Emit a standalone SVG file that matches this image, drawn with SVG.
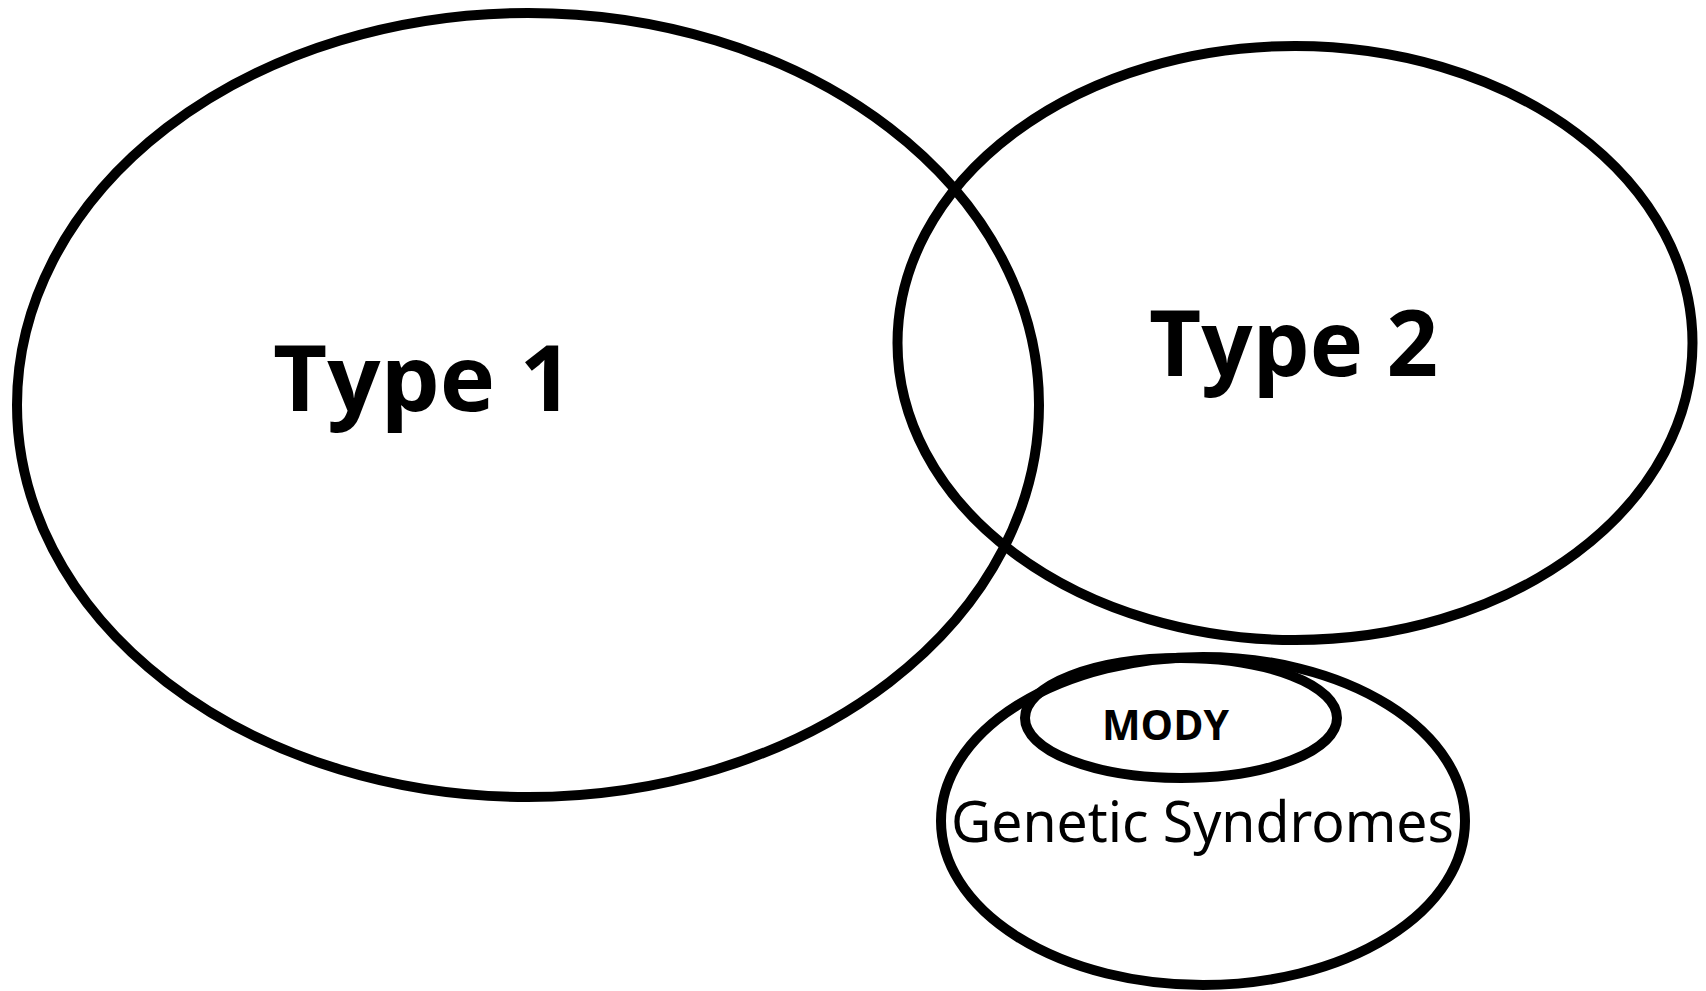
<svg xmlns="http://www.w3.org/2000/svg" width="1706" height="991" viewBox="0 0 1706 991">
<style>
.ring{fill:none;stroke:#000;stroke-width:10}
.big{font-family:"Open Sans","Liberation Sans",sans-serif;font-weight:700;font-size:92px;fill:#000}
.mody{font-family:"Open Sans","Liberation Sans",sans-serif;font-weight:700;font-size:42px;fill:#000}
.gen{font-family:"Noto Sans","Open Sans","Liberation Sans",sans-serif;font-weight:400;font-size:57px;fill:#000}
</style>
<rect width="1706" height="991" fill="#fff"/>
<g id="type1">
<ellipse class="ring" cx="528" cy="405" rx="511" ry="392"/>
<text class="big" x="273" y="411" textLength="300" lengthAdjust="spacingAndGlyphs">Type 1</text>
</g>
<g id="type2">
<ellipse class="ring" cx="1295" cy="343" rx="397.5" ry="297"/>
<text class="big" x="1149" y="376" textLength="289" lengthAdjust="spacingAndGlyphs">Type 2</text>
</g>
<g id="genetic">
<ellipse class="ring" cx="1203" cy="821" rx="262" ry="164"/>
<text class="gen" x="951" y="842" textLength="503" lengthAdjust="spacingAndGlyphs">Genetic Syndromes</text>
</g>
<g id="mody">
<ellipse class="ring" cx="1181" cy="718" rx="156" ry="60"/>
<text class="mody" x="1102" y="740" textLength="127" lengthAdjust="spacingAndGlyphs">MODY</text>
</g>
<g id="connectors"></g>
</svg>
